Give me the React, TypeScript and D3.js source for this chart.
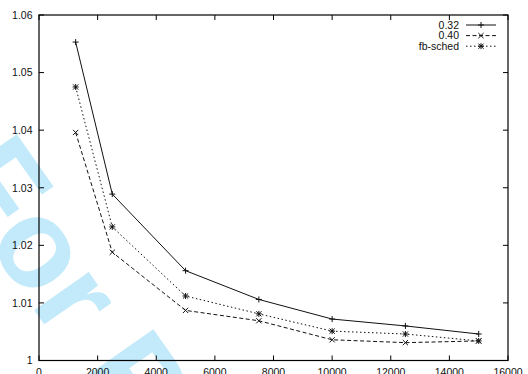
import * as d3 from "d3";

const xValues = [1250, 2500, 5000, 7500, 10000, 12500, 15000];
const series032 = [1.0553, 1.0289, 1.0156, 1.0106, 1.0072, 1.0060, 1.0046];
const series040 = [1.0396, 1.0188, 1.0087, 1.0069, 1.0036, 1.0031, 1.0034];
const seriesFb = [1.0475, 1.0232, 1.0112, 1.0081, 1.0051, 1.0046, 1.0034];
const xTicks = [0, 2000, 4000, 6000, 8000, 10000, 12000, 14000, 16000];
const yTicks = [1, 1.01, 1.02, 1.03, 1.04, 1.05, 1.06];
const seriesNames = ["0.32", "0.40", "fb-sched"];

const W = 528;
const H = 374;
const pad = { left: 39, right: 20, top: 15, bottom: 13.5 };
const font = "'Liberation Sans', Arial, Helvetica, sans-serif";

type Marker = "plus" | "cross" | "star";

function markerPath(kind: Marker, cx: number, cy: number) {
  const s = 3;
  const plus = `M${cx - s},${cy}H${cx + s}M${cx},${cy - s}V${cy + s}`;
  const c = 2.6;
  const cross = `M${cx - c},${cy - c}L${cx + c},${cy + c}M${cx - c},${cy + c}L${cx + c},${cy - c}`;
  if (kind === "plus") return plus;
  if (kind === "cross") return cross;
  return plus + cross;
}

export default function App() {
  const x = d3.scaleLinear().domain([0, 16000]).range([pad.left, W - pad.right]);
  const y = d3.scaleLinear().domain([1, 1.06]).range([H - pad.bottom, pad.top]);

  const line = d3
    .line<[number, number]>()
    .x((d) => x(d[0]))
    .y((d) => y(d[1]));

  const all = [
    { name: seriesNames[0], values: series032, dash: undefined, marker: "plus" as Marker },
    { name: seriesNames[1], values: series040, dash: "4,2.5", marker: "cross" as Marker },
    { name: seriesNames[2], values: seriesFb, dash: "1.5,2.5", marker: "star" as Marker },
  ];

  const x0 = x.range()[0];
  const x1 = x.range()[1];
  const yb = y.range()[0];
  const yt = y.range()[1];
  const tick = 5;

  // watermark geometry
  const wmAngle = 55;

  return (
    <div style={{ position: "absolute", left: 0, top: 0 }}>
      <svg width={W} height={H} style={{ display: "block", background: "#fff" }}>
        <text
          transform={`translate(-59,177) rotate(${wmAngle})`}
          fontFamily={font}
          fontWeight="700"
          fontSize="126"
          fill="#c3eafa"
        >
          For Peer Review
        </text>

        {/* ticks */}
        {xTicks.map((t) => (
          <g key={"x" + t}>
            <line x1={x(t)} x2={x(t)} y1={yb} y2={yb - tick} stroke="#000" />
            <line x1={x(t)} x2={x(t)} y1={yt} y2={yt + tick} stroke="#000" />
            <text
              x={x(t)}
              y={375.5}
              textAnchor="middle"
              fontFamily={font}
              fontSize="10.5"
              fill="#111"
            >
              {t}
            </text>
          </g>
        ))}
        {yTicks.map((t) => (
          <g key={"y" + t}>
            <line x1={x0} x2={x0 + tick} y1={y(t)} y2={y(t)} stroke="#000" />
            <line x1={x1} x2={x1 - tick} y1={y(t)} y2={y(t)} stroke="#000" />
            <text
              x={32.5}
              y={y(t)}
              dy="0.36em"
              textAnchor="end"
              fontFamily={font}
              fontSize="10.5"
              fill="#111"
            >
              {t === 1 ? "1" : t.toFixed(2)}
            </text>
          </g>
        ))}

        <rect
          x={x0}
          y={yt}
          width={x1 - x0}
          height={yb - yt}
          fill="none"
          stroke="#000"
          strokeWidth="1.2"
        />

        {all.map((s) => {
          const pts = xValues.map((v, i) => [v, s.values[i]] as [number, number]);
          return (
            <g key={s.name}>
              <path
                d={line(pts) ?? ""}
                fill="none"
                stroke="#111"
                strokeWidth="1"
                strokeDasharray={s.dash}
              />
              {pts.map((p, i) => (
                <path
                  key={i}
                  d={markerPath(s.marker, x(p[0]), y(p[1]))}
                  stroke="#111"
                  strokeWidth="1"
                  fill="none"
                />
              ))}
            </g>
          );
        })}

        {/* legend */}
        {all.map((s, i) => {
          const ly = 25 + i * 10.6;
          return (
            <g key={"lg" + s.name}>
              <text
                x={459}
                y={ly}
                dy="0.36em"
                textAnchor="end"
                fontFamily={font}
                fontSize="10.5"
                fill="#111"
              >
                {s.name}
              </text>
              <line
                x1={466}
                x2={496}
                y1={ly}
                y2={ly}
                stroke="#111"
                strokeWidth="1"
                strokeDasharray={s.dash}
              />
              <path
                d={markerPath(s.marker, 481, ly)}
                stroke="#111"
                strokeWidth="1"
                fill="none"
              />
            </g>
          );
        })}
      </svg>
    </div>
  );
}
